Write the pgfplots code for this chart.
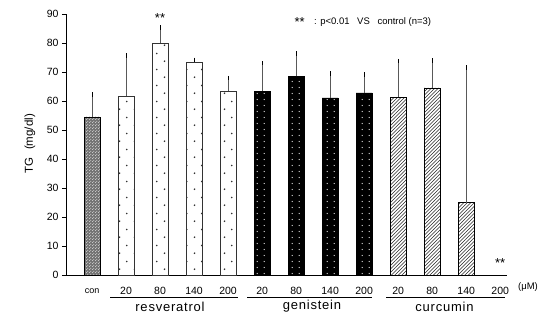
\documentclass[border=0pt]{standalone}
\usepackage{fontspec}
\setmainfont{Liberation Sans}
\usepackage{pgfplots}
\pgfplotsset{compat=1.18}
\usetikzlibrary{patterns}

\newcommand{\st}{\raisebox{-0.28em}{\fontsize{13}{13}\selectfont *}}

\pgfdeclarepatternformonly{resdots}{\pgfqpoint{0pt}{0pt}}{\pgfqpoint{14.6pt}{15.6pt}}{\pgfqpoint{14.6pt}{15.6pt}}{%
  \pgfpathcircle{\pgfqpoint{3.65pt}{3.9pt}}{0.9pt}%
  \pgfpathcircle{\pgfqpoint{10.95pt}{11.7pt}}{0.9pt}%
  \pgfusepath{fill}}
\pgfdeclarepatternformonly{gendots}{\pgfqpoint{0pt}{0pt}}{\pgfqpoint{6.7pt}{5.5pt}}{\pgfqpoint{6.7pt}{5.5pt}}{%
  \pgfpathcircle{\pgfqpoint{3.35pt}{2.75pt}}{0.75pt}%
  \pgfusepath{fill}}
\pgfdeclarepatternformonly{condots}{\pgfqpoint{0pt}{0pt}}{\pgfqpoint{2.6pt}{2.6pt}}{\pgfqpoint{2.6pt}{2.6pt}}{%
  \pgfpathcircle{\pgfqpoint{0.65pt}{0.65pt}}{0.55pt}%
  \pgfpathcircle{\pgfqpoint{1.95pt}{1.95pt}}{0.55pt}%
  \pgfusepath{fill}}
\pgfdeclarepatternformonly{curlines}{\pgfqpoint{-1pt}{-1pt}}{\pgfqpoint{4.5pt}{4.5pt}}{\pgfqpoint{3.5pt}{3.5pt}}{%
  \pgfsetlinewidth{0.6pt}%
  \pgfpathmoveto{\pgfqpoint{0pt}{0pt}}%
  \pgfpathlineto{\pgfqpoint{3.6pt}{3.6pt}}%
  \pgfusepath{stroke}}

\begin{document}
\begin{tikzpicture}[x=1pt,y=1pt]
\useasboundingbox (0,0) rectangle (542,320);
\begin{axis}[
  at={(66pt,45pt)}, anchor=south west,
  scale only axis, width=441pt, height=261pt,
  xmin=-0.765, xmax=12.2, ymin=0, ymax=90,
  axis x line=bottom, axis y line=left,
  axis line style={-, black, line width=0.8pt},
  ybar, bar width=16pt, bar shift=0pt,
  ytick={0,10,...,90}, tick align=outside, major tick length=4pt,
  y tick style={black, line width=0.6pt},
  xtick={0,...,12},
  xticklabels={{\fontsize{9}{10}\selectfont con},20,80,140,200,20,80,140,200,20,80,140,200},
  x tick style={draw=none},
  xticklabel style={anchor=center, yshift=-12pt},
  /pgf/number format/assume math mode=true,
  tick label style={font=\fontsize{10.5}{12}\selectfont},
  error bars/y dir=plus, error bars/y explicit,
  error bars/error bar style={black!65, line width=0.7pt},
  error bars/error mark options={black, mark size=2.2pt, line width=0.7pt},
  clip=false,
]
\addplot[draw=black, line width=0.6pt, fill=black!55, postaction={pattern=condots, pattern color=white!85!black}]
  coordinates {(0,54.5) +- (0,7.8)};
\addplot[draw=black!80, line width=0.7pt, fill=white, postaction={pattern=resdots, pattern color=black!80}]
  coordinates {(1,61.7) +- (0,14.0) (2,80.0) +- (0,5.3) (3,73.3) +- (0,0.9) (4,63.4) +- (0,4.5)};
\addplot[draw=black, line width=0.6pt, fill=black, postaction={pattern=gendots, pattern color=white!85!black}]
  coordinates {(5,63.3) +- (0,9.7) (6,68.5) +- (0,7.9) (7,61.1) +- (0,8.4) (8,62.8) +- (0,6.4)};
\addplot[draw=black, line width=0.7pt, fill=white, postaction={pattern=curlines, pattern color=black!85}]
  coordinates {(9,61.3) +- (0,12.5) (10,64.5) +- (0,9.5) (11,24.9) +- (0,46.6)};
\node at (axis cs:2,88.6) {\st\st};
\node at (axis cs:12,4.2) {\st\st};
\node[anchor=west, font=\fontsize{9.5}{11}\selectfont] at (axis cs:5.85,87.2) {\st\st\hspace{1.0em}: p<0.01\hspace{0.8em}VS\hspace{0.8em}control (n=3)};
\end{axis}
\node[rotate=90, font=\fontsize{11.5}{13}\selectfont] at (30,176) {TG\hspace{0.7em}(mg/dl)};
\node[font=\fontsize{9.5}{11}\selectfont] at (528,33) {(μM)};
\draw[black, line width=0.7pt] (110,23) -- (238,23);
\draw[black, line width=0.7pt] (247,23) -- (372,23);
\draw[black, line width=0.7pt] (386,23) -- (505,23);
\begin{scope}[every node/.style={font=\fontsize{13}{15}\selectfont\addfontfeature{LetterSpace=6}}]
\node at (170,13.5) {resveratrol};
\node at (312,13.5) {genistein};
\node at (444.5,13.5) {curcumin};
\end{scope}
\end{tikzpicture}
\end{document}
